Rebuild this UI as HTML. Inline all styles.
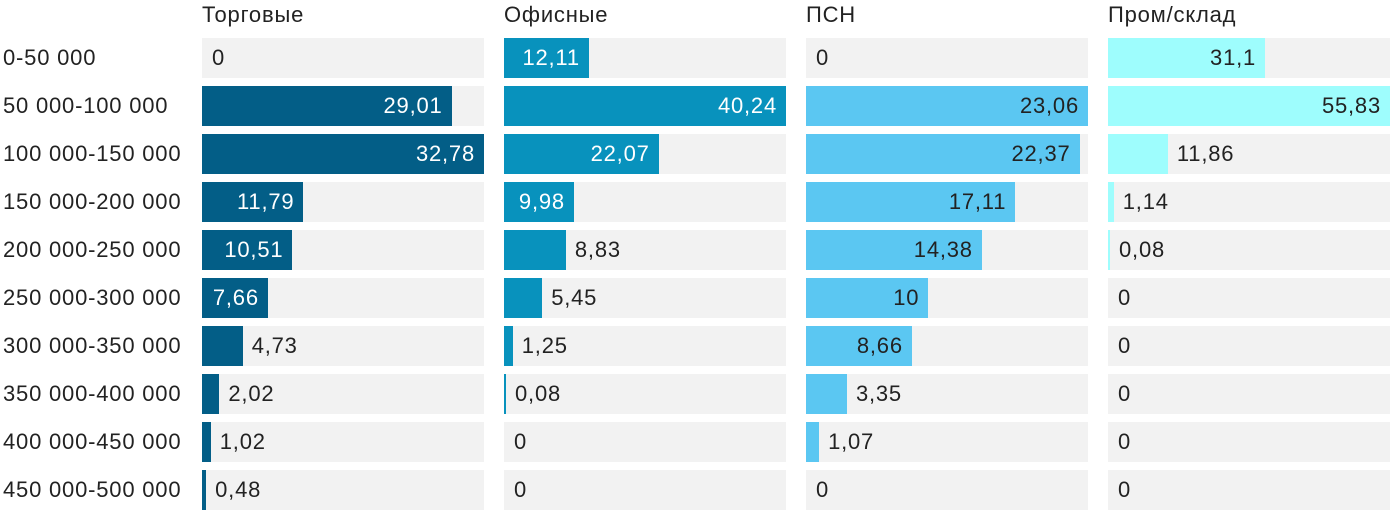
<!DOCTYPE html>
<html><head><meta charset="utf-8"><style>
body{margin:0;width:1400px;height:526px;background:#fff;font-family:"Liberation Sans",sans-serif;position:relative;overflow:hidden}
div.a{position:absolute;font-size:22px;letter-spacing:0.8px;line-height:40px;white-space:nowrap;color:#222}
.bg{position:absolute;background:#f2f2f2;height:40px;width:282px}
.bar{position:absolute;height:40px}
.h{position:absolute;font-size:22px;letter-spacing:0.8px;color:#222;top:1px;line-height:28px}
</style></head><body>
<script>
var rows=["0-50 000","50 000-100 000","100 000-150 000","150 000-200 000","200 000-250 000","250 000-300 000","300 000-350 000","350 000-400 000","400 000-450 000","450 000-500 000"];
var cols=[
 {n:"Торговые",x:202,c:"#035e87",t:"#fff",v:[0,29.01,32.78,11.79,10.51,7.66,4.73,2.02,1.02,0.48]},
 {n:"Офисные",x:504,c:"#0892bd",t:"#fff",v:[12.11,40.24,22.07,9.98,8.83,5.45,1.25,0.08,0,0]},
 {n:"ПСН",x:806,c:"#5bc7f2",t:"#222",v:[0,23.06,22.37,17.11,14.38,10,8.66,3.35,1.07,0]},
 {n:"Пром/склад",x:1108,c:"#9efdfd",t:"#222",v:[31.1,55.83,11.86,1.14,0.08,0,0,0,0,0]}
];
var h="";
rows.forEach(function(r,i){h+='<div class="a" style="left:3px;top:'+(38+48*i)+'px">'+r+'</div>';});
cols.forEach(function(c){
 var m=Math.max.apply(null,c.v);
 h+='<div class="h" style="left:'+c.x+'px">'+c.n+'</div>';
 c.v.forEach(function(v,i){
  var y=38+48*i, w=v>0?Math.max(2,v/m*282):0;
  var s=String(v).replace(".",",");
  h+='<div class="bg" style="left:'+c.x+'px;top:'+y+'px"></div>';
  if(w>0)h+='<div class="bar" style="left:'+c.x+'px;top:'+y+'px;width:'+w+'px;background:'+c.c+'"></div>';
  if(w>=64){h+='<div class="a" style="left:'+c.x+'px;width:'+(w-9)+'px;text-align:right;top:'+y+'px;color:'+c.t+'">'+s+'</div>';}
  else{h+='<div class="a" style="left:'+(c.x+w+(w>0?9:10))+'px;top:'+y+'px">'+s+'</div>';}
 });
});
document.write(h);
</script>
</body></html>
